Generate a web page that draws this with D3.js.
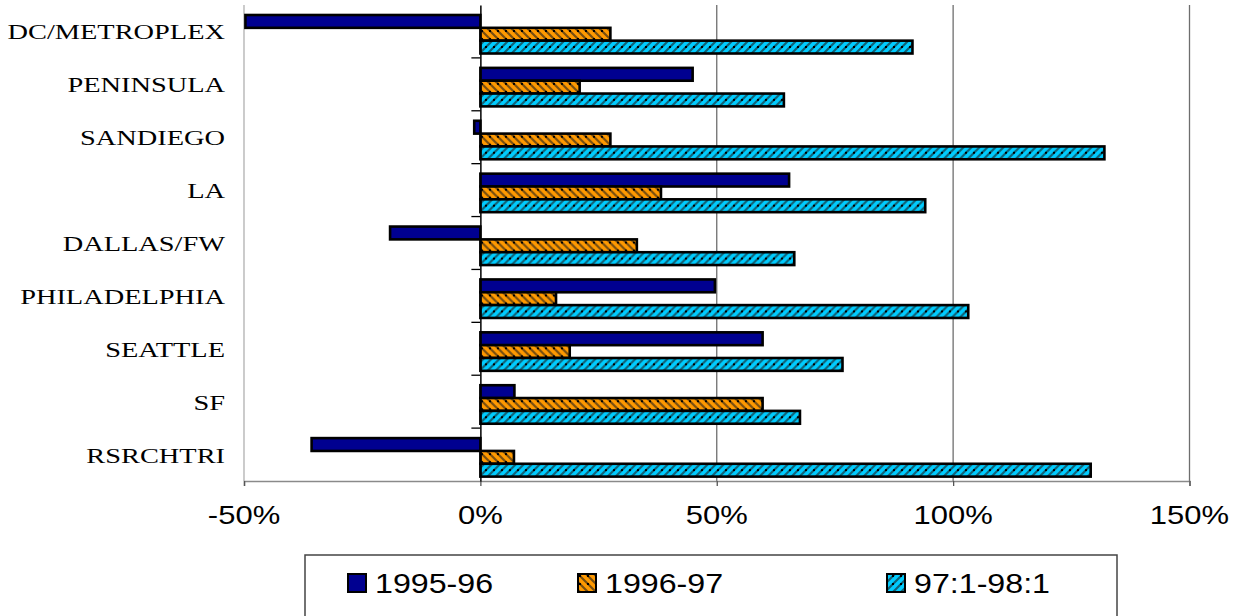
<!DOCTYPE html>
<html>
<head>
<meta charset="utf-8">
<script src="https://cdn.jsdelivr.net/npm/d3@7"></script>
<style>
  html, body { margin: 0; padding: 0; background: #fff; }
  svg { display: block; }
</style>
</head>
<body>
<svg id="chart" width="1245" height="616"></svg>
<script>
// Regions, top to bottom
const categories = ["DC/METROPLEX", "PENINSULA", "SANDIEGO", "LA", "DALLAS/FW",
                    "PHILADELPHIA", "SEATTLE", "SF", "RSRCHTRI"];
const seriesNames = ["1995-96", "1996-97", "97:1-98:1"];
// Growth rates, percent
const growth9596 = [-49.7, 44.9, -1.3, 65.3, -19.1, 49.6, 59.7, 7.2, -35.7];
const growth9697 = [27.5, 21.0, 27.5, 38.2, 33.1, 16.0, 18.9, 59.7, 7.1];
const growth9798 = [91.4, 64.2, 132.0, 94.1, 66.4, 103.2, 76.6, 67.6, 129.1];
const xTicks = [-50, 0, 50, 100, 150];
const xTickLabels = ["-50%", "0%", "50%", "100%", "150%"];

const seriesValues = [growth9596, growth9697, growth9798];

const svg = d3.select("#chart");
const defs = svg.append("defs");

// Fill patterns: orange with back-diagonal stripes, cyan with forward-diagonal stripes
function hatch(id, bg, forward) {
  const p = defs.append("pattern")
    .attr("id", id)
    .attr("patternUnits", "userSpaceOnUse")
    .attr("width", 8).attr("height", 8);
  p.append("rect").attr("width", 8).attr("height", 8).attr("fill", bg);
  const d = forward
    ? "M-2,2 L2,-2 M0,8 L8,0 M6,10 L10,6"
    : "M-2,6 L2,10 M0,0 L8,8 M6,-2 L10,2";
  p.append("path").attr("d", d)
    .attr("stroke", "#1a1a1a").attr("stroke-width", 2.2).attr("stroke-opacity", 0.6);
  // black square dots sitting on the stripe
  p.append("rect").attr("x", forward ? 5 : 1).attr("y", 1).attr("width", 2).attr("height", 2).attr("fill", "#000");
}
hatch("fillOrange", "#FF9900", false);
hatch("fillCyan", "#00CCFF", true);
const fills = ["#000090", "url(#fillOrange)", "url(#fillCyan)"];

// Plot area
const plot = { left: 244, right: 1189.5, top: 5, bottom: 481 };

const x = d3.scaleLinear().domain([-50, 150]).range([plot.left, plot.right]);
const y = d3.scaleBand().domain(categories).range([plot.top, plot.bottom]).padding(0);
const ySub = d3.scaleBand().domain(seriesNames).range([10, 48.5]).padding(0);

// Vertical gridlines
svg.append("g")
  .selectAll("line")
  .data(xTicks.filter(t => t > 0))
  .join("line")
  .attr("x1", d => x(d)).attr("x2", d => x(d))
  .attr("y1", plot.top).attr("y2", plot.bottom)
  .attr("stroke", "#6e6e6e").attr("stroke-width", 1.3);

// Left border of plot area
svg.append("line")
  .attr("x1", plot.left).attr("x2", plot.left)
  .attr("y1", plot.top).attr("y2", plot.bottom)
  .attr("stroke", "#b0b0b0").attr("stroke-width", 1.3);

// Value axis along the bottom
const xAxis = d3.axisBottom(x).tickValues(xTicks).tickSize(5).tickFormat("");
const gx = svg.append("g")
  .attr("transform", `translate(0,${plot.bottom})`)
  .call(xAxis);
gx.select(".domain").attr("stroke", "#8a8a8a").attr("stroke-width", 1.5);
gx.selectAll(".tick line").attr("stroke", "#555").attr("stroke-width", 1.3);

// Tick labels (wide Arial)
svg.append("g")
  .selectAll("text")
  .data(xTicks)
  .join("text")
  .attr("transform", d => `translate(${x(d)},524) scale(1.24,1)`)
  .attr("text-anchor", "middle")
  .attr("font-family", "Liberation Sans, Arial, sans-serif")
  .attr("font-size", 25)
  .attr("fill", "#000")
  .text((d, i) => xTickLabels[i]);

// Bars
const groups = svg.append("g")
  .selectAll("g")
  .data(categories)
  .join("g")
  .attr("transform", d => `translate(0,${y(d)})`);

groups.selectAll("rect")
  .data((c, ci) => seriesNames.map((s, si) => ({ s, si, v: seriesValues[si][ci] })))
  .join("rect")
  .attr("x", d => x(Math.min(0, d.v)))
  .attr("width", d => Math.abs(x(d.v) - x(0)))
  .attr("y", d => ySub(d.s))
  .attr("height", ySub.bandwidth())
  .attr("fill", d => fills[d.si])
  .attr("stroke", "#000")
  .attr("stroke-width", 2.6);

// Category axis at zero
const yAxis = d3.axisLeft(y).tickSize(0).tickFormat("");
const gy = svg.append("g")
  .attr("transform", `translate(${x(0)},0)`)
  .call(yAxis);
gy.select(".domain").attr("stroke", "#000").attr("stroke-width", 1.5);
// Tick marks between categories
svg.append("g")
  .selectAll("line")
  .data(categories.slice(1))
  .join("line")
  .attr("x1", x(0) - 9).attr("x2", x(0))
  .attr("y1", d => y(d)).attr("y2", d => y(d))
  .attr("stroke", "#000").attr("stroke-width", 1.3);

// Category labels (wide Times)
svg.append("g")
  .selectAll("text")
  .data(categories)
  .join("text")
  .attr("transform", d => `translate(225,${y(d) + y.bandwidth() / 2 + 8}) scale(1.29,1)`)
  .attr("text-anchor", "end")
  .attr("font-family", "Liberation Serif, Times New Roman, serif")
  .attr("font-size", 22)
  .attr("fill", "#000")
  .text(d => d);

// Legend
const legend = svg.append("g");
legend.append("rect")
  .attr("x", 305).attr("y", 555)
  .attr("width", 812).attr("height", 80)
  .attr("fill", "#fff")
  .attr("stroke", "#444").attr("stroke-width", 1.5);

const legendX = [348, 578, 887];
const items = legend.selectAll("g.item")
  .data(seriesNames)
  .join("g")
  .attr("class", "item")
  .attr("transform", (d, i) => `translate(${legendX[i]},574)`);
items.append("rect")
  .attr("width", 18).attr("height", 18)
  .attr("fill", (d, i) => fills[i])
  .attr("stroke", "#000").attr("stroke-width", 2);
items.append("text")
  .attr("transform", "translate(27,19) scale(1.15,1)")
  .attr("font-family", "Liberation Sans, Arial, sans-serif")
  .attr("font-size", 28)
  .attr("fill", "#000")
  .text(d => d);
</script>
</body>
</html>
